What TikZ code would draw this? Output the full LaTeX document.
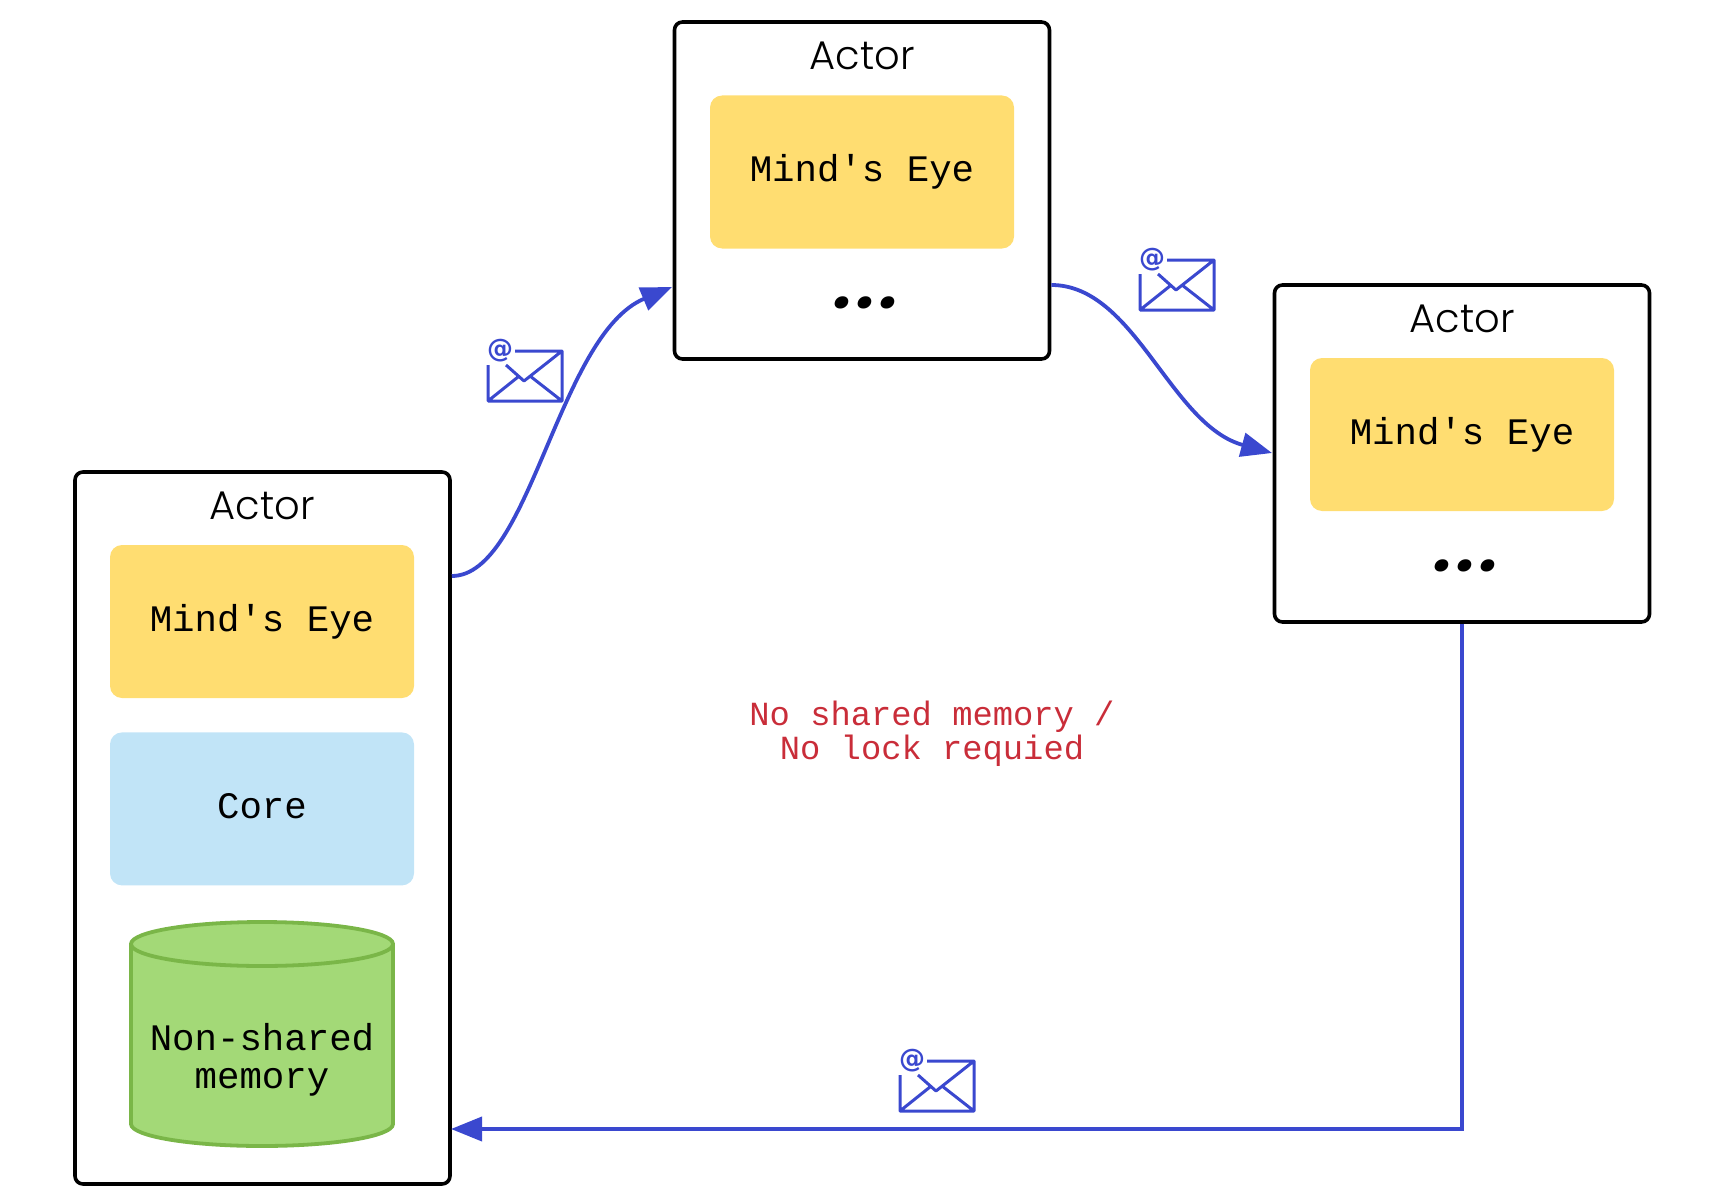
\documentclass[tikz,border=0pt]{standalone}
\usepackage{fontspec}
\usepackage{tikz}
\usetikzlibrary{positioning,arrows.meta}
\setmonofont{Liberation Mono}
\newfontfamily\actorfont{Poppins Light}
\newfontfamily\dotfont[LetterSpace=7,FakeSlant=0.2]{Poppins}
\newfontfamily\signfont{DejaVu Sans}
\definecolor{msgblue}{HTML}{3A48CF}
\definecolor{eyeyellow}{HTML}{FFDD71}
\definecolor{coreblue}{HTML}{C1E4F7}
\definecolor{memgreen}{HTML}{A3D977}
\definecolor{memline}{HTML}{7AB648}
\definecolor{notered}{HTML}{C92D39}
\tikzset{
  actor/.style = {draw, line width=3.6pt, rounded corners=8pt, minimum width=375pt, inner sep=0pt},
  title/.style = {font=\actorfont\fontsize{40}{40}\selectfont, inner sep=0pt},
  inner/.style = {rounded corners=12pt, minimum width=304pt, minimum height=153pt, inner sep=0pt,
    text height=27pt, text depth=8pt, font=\ttfamily\fontsize{37.4}{37.5}\selectfont},
  more/.style = {font=\dotfont\bfseries\fontsize{66}{66}\selectfont, inner sep=0pt},
  memory/.style = {draw=memline, fill=memgreen, line width=3.8pt},
  msg/.style = {draw=msgblue, line width=3.8pt, -{Triangle[length=31pt,width=24pt]}},
  pics/mail/.style = {code = {
    \node[text=msgblue, font=\signfont\bfseries\fontsize{26}{26}\selectfont, inner sep=0pt] (sign) at (12,0) {@};
    \draw[msgblue, line width=3pt, line join=round]
      (0,14) -- (0,50) -- (74,50) -- (74,0) -- (27,0)
      (18,14) -- (36,30) -- (74,0)
      (0,50) -- (30,26) (74,50) -- (42,25);
  }}
}
\begin{document}
\begin{tikzpicture}[x=1pt, y=-1pt]
\useasboundingbox (0,0) rectangle (1725,1204);
% actors
\node[actor, minimum height=712pt] (a1) at (262.5,828) {};
\node[actor, minimum height=337pt] (a2) at (862,190.5) {};
\node[actor, minimum height=337pt] (a3) at (1462,453.5) {};
\node[title] (t1) at (262,506) {Actor};
\node[title] (t2) at (862,56) {Actor};
\node[title] (t3) at (1462,319) {Actor};
\node[inner, fill=eyeyellow] (e1) at (262,621.5) {Mind's Eye};
\node[inner, fill=eyeyellow] (e2) at (862,172) {Mind's Eye};
\node[inner, fill=eyeyellow] (e3) at (1462,434.5) {Mind's Eye};
\node[inner, fill=coreblue, below=34pt of e1] (c1) {Core};
\node[more] (d2) at (864,303) {...};
\node[more] (d3) at (1464,566) {...};
% memory
\draw[memory] (131,944) -- (131,1124) arc[start angle=180, end angle=360, x radius=131pt, y radius=22pt]
  -- (393,944) arc[start angle=0, end angle=180, x radius=131pt, y radius=22pt]
  arc[start angle=180, end angle=360, x radius=131pt, y radius=22pt];
\node[align=center, font=\ttfamily\fontsize{37.4}{37.5}\selectfont, inner sep=0pt] (s1) at (262,1060)
  {Non-shared\\memory};
% note
\node[align=center, text=notered, font=\ttfamily\fontsize{33.8}{33.5}\selectfont, inner sep=0pt] (n1) at (932,734)
  {No shared memory /\\No lock requied};
% envelopes
\pic (p1) at (488,351) {mail};
\pic (p2) at (1140,260) {mail};
\pic (p3) at (900,1061) {mail};
% messages
\coordinate (o1) at (a1.east |- 0,576);
\coordinate (i2) at (672,287);
\coordinate (o2) at (a2.east |- 0,285);
\coordinate (i3) at (1272,453);
\coordinate (o3) at (a3.south);
\coordinate (b3) at (a3.south |- 0,1129);
\coordinate (i1) at (451,1129);
\draw[msg] (o1) .. controls (530,576) and (558,335) .. (i2);
\draw[msg] (o2) .. controls (1135,285) and (1170,425) .. (i3);
\draw[msg] (o3) -- (b3) -- (i1);
\end{tikzpicture}
\end{document}
